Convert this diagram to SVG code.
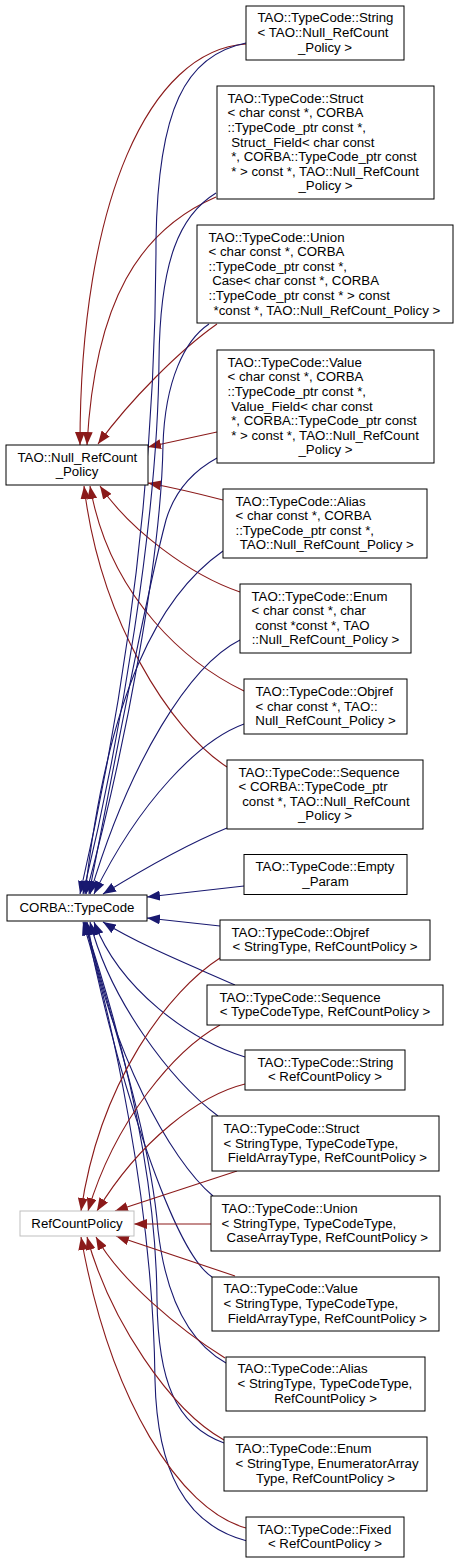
<svg xmlns="http://www.w3.org/2000/svg" width="459" height="1563" viewBox="0 0 459 1563">
<style>
  .box { fill: #ffffff; stroke: #000000; stroke-width: 1; }
  .gray { fill: #ffffff; stroke: #bfbfbf; stroke-width: 1; }
  text { font-family: "Liberation Sans", Arial, sans-serif; font-size: 13.25px; fill: #000000; white-space: pre; }
  .c { text-anchor: middle; }
  .b { fill: none; stroke: #191970; stroke-width: 1.1; marker-end: url(#ab); }
  .r { fill: none; stroke: #8b1a1a; stroke-width: 1.1; marker-end: url(#ar); }
</style>
<defs>
  <marker id="ab" viewBox="0 0 13 10" refX="13" refY="5" markerWidth="13" markerHeight="10" markerUnits="userSpaceOnUse" orient="auto">
    <path d="M0,0 L13,5 L0,10 z" fill="#191970"/>
  </marker>
  <marker id="ar" viewBox="0 0 13 10" refX="13" refY="5" markerWidth="13" markerHeight="10" markerUnits="userSpaceOnUse" orient="auto">
    <path d="M0,0 L13,5 L0,10 z" fill="#8b1a1a"/>
  </marker>
</defs>
<rect x="0" y="0" width="459" height="1563" fill="#ffffff"/>
<g id="connectors">
  <path class="r" d="M246,44 C150,50 80,200 80,445"/>
  <path class="r" d="M216,197 C140,230 95,300 87,445"/>
  <path class="r" d="M217,324 C180,350 130,400 98,444"/>
  <path class="r" d="M217,432 C195,437 170,442 148,447"/>
  <path class="r" d="M223,500 C200,494 175,488 148,483"/>
  <path class="r" d="M240,592 C190,575 130,530 100,486"/>
  <path class="r" d="M244,691 C190,665 110,600 90,486"/>
  <path class="r" d="M227,767 C170,730 100,620 84,486"/>
  <path class="b" d="M246,43 C185,55 158,110 156,240 C156,500 120,720 80,894"/>
  <path class="b" d="M216,193 C180,215 160,260 159,360 C158,520 120,740 83,894"/>
  <path class="b" d="M209,324 C185,340 165,380 163,445 C161,560 125,750 86,894"/>
  <path class="b" d="M217,458 C195,470 175,490 166,520 C145,600 115,760 89,894"/>
  <path class="b" d="M223,551 C160,595 108,690 85,894"/>
  <path class="b" d="M240,640 C190,665 130,760 90,894"/>
  <path class="b" d="M244,724 C200,740 140,800 94,894"/>
  <path class="b" d="M227,828 C190,843 150,865 103,894"/>
  <path class="b" d="M244,886 L147,897"/>
  <path class="b" d="M220,926 L147,918"/>
  <path class="b" d="M235,985 C190,965 140,945 103,922"/>
  <path class="b" d="M245,1057 C190,1040 120,990 94,922"/>
  <path class="b" d="M218,1116 C170,1080 110,1000 90,922"/>
  <path class="b" d="M213,1196 C170,1160 110,1050 87,922"/>
  <path class="b" d="M212,1277 C170,1250 110,1050 86,922"/>
  <path class="b" d="M226,1363 C185,1340 165,1290 158,1230 C150,1130 105,1000 85,922"/>
  <path class="b" d="M224,1443 C175,1425 158,1380 157,1300 C156,1150 110,1000 84,922"/>
  <path class="b" d="M247,1541 C185,1525 157,1470 155,1380 C153,1200 110,1010 83,922"/>
  <path class="r" d="M220,958 C170,990 100,1080 81,1211"/>
  <path class="r" d="M220,1025 C175,1050 115,1120 88,1211"/>
  <path class="r" d="M245,1084 C200,1095 140,1140 97,1211"/>
  <path class="r" d="M237,1171 L115,1211"/>
  <path class="r" d="M211,1224 L134,1224"/>
  <path class="r" d="M235,1276 L116,1236"/>
  <path class="r" d="M225,1358 C180,1330 120,1280 96,1237"/>
  <path class="r" d="M224,1440 C170,1410 110,1320 87,1237"/>
  <path class="r" d="M246,1528 C180,1510 110,1400 81,1237"/>
</g>
<g id="node_string_null">
  <rect class="box" x="246" y="6" width="158" height="54"/>
  <text x="257.5" y="22.4">TAO::TypeCode::String</text>
  <text x="257.5" y="37">&lt; TAO::Null_RefCount</text>
  <text class="c" x="325" y="51.6">_Policy &gt;</text>
</g>
<g id="node_struct_null">
  <rect class="box" x="217" y="86" width="217" height="113"/>
  <text x="227.5" y="102.7">TAO::TypeCode::Struct</text>
  <text x="227.5" y="117.3">&lt; char const *, CORBA</text>
  <text x="227.5" y="131.9">::TypeCode_ptr const *,</text>
  <text x="227.5" y="146.5"> Struct_Field&lt; char const</text>
  <text x="227.5" y="161.1"> *, CORBA::TypeCode_ptr const</text>
  <text x="227.5" y="175.7"> * &gt; const *, TAO::Null_RefCount</text>
  <text class="c" x="325.5" y="190.3">_Policy &gt;</text>
</g>
<g id="node_union_null">
  <rect class="box" x="197" y="225" width="256" height="98"/>
  <text x="208.5" y="241.5">TAO::TypeCode::Union</text>
  <text x="208.5" y="256.1">&lt; char const *, CORBA</text>
  <text x="208.5" y="270.7">::TypeCode_ptr const *,</text>
  <text x="208.5" y="285.3"> Case&lt; char const *, CORBA</text>
  <text x="208.5" y="299.9">::TypeCode_ptr const * &gt; const</text>
  <text class="c" x="325" y="314.5"> *const *, TAO::Null_RefCount_Policy &gt;</text>
</g>
<g id="node_value_null">
  <rect class="box" x="217" y="350" width="217" height="113"/>
  <text x="227.5" y="366.7">TAO::TypeCode::Value</text>
  <text x="227.5" y="381.3">&lt; char const *, CORBA</text>
  <text x="227.5" y="395.9">::TypeCode_ptr const *,</text>
  <text x="227.5" y="410.5"> Value_Field&lt; char const</text>
  <text x="227.5" y="425.1"> *, CORBA::TypeCode_ptr const</text>
  <text x="227.5" y="439.7"> * &gt; const *, TAO::Null_RefCount</text>
  <text class="c" x="325.5" y="454.3">_Policy &gt;</text>
</g>
<g id="node_null_refcount_policy">
  <rect class="box" x="6" y="445" width="142" height="40"/>
  <text x="17.5" y="461.7">TAO::Null_RefCount</text>
  <text class="c" x="77" y="476.3">_Policy</text>
</g>
<g id="node_alias_null">
  <rect class="box" x="223" y="489" width="204" height="69"/>
  <text x="235.5" y="505.6">TAO::TypeCode::Alias</text>
  <text x="235.5" y="520.2">&lt; char const *, CORBA</text>
  <text x="235.5" y="534.8">::TypeCode_ptr const *,</text>
  <text class="c" x="325" y="549.4"> TAO::Null_RefCount_Policy &gt;</text>
</g>
<g id="node_enum_null">
  <rect class="box" x="240" y="584" width="171" height="69"/>
  <text x="251.5" y="600.6">TAO::TypeCode::Enum</text>
  <text x="251.5" y="615.2">&lt; char const *, char</text>
  <text x="251.5" y="629.8"> const *const *, TAO</text>
  <text class="c" x="325.5" y="644.4">::Null_RefCount_Policy &gt;</text>
</g>
<g id="node_objref_null">
  <rect class="box" x="244" y="679" width="163" height="55"/>
  <text x="255.5" y="695.9">TAO::TypeCode::Objref</text>
  <text x="255.5" y="710.5">&lt; char const *, TAO::</text>
  <text class="c" x="325.5" y="725.1">Null_RefCount_Policy &gt;</text>
</g>
<g id="node_sequence_null">
  <rect class="box" x="227" y="760" width="196" height="69"/>
  <text x="238.5" y="776.6">TAO::TypeCode::Sequence</text>
  <text x="238.5" y="791.2">&lt; CORBA::TypeCode_ptr</text>
  <text x="238.5" y="805.8"> const *, TAO::Null_RefCount</text>
  <text class="c" x="325" y="820.4">_Policy &gt;</text>
</g>
<g id="node_empty_param">
  <rect class="box" x="244" y="854.5" width="163" height="40"/>
  <text x="255.5" y="871.2">TAO::TypeCode::Empty</text>
  <text class="c" x="325.5" y="885.8">_Param</text>
</g>
<g id="node_corba_typecode">
  <rect class="box" x="7" y="895" width="140" height="26"/>
  <text class="c" x="77" y="911.5">CORBA::TypeCode</text>
</g>
<g id="node_objref_t">
  <rect class="box" x="220" y="920" width="210" height="40"/>
  <text x="231.5" y="936.7">TAO::TypeCode::Objref</text>
  <text class="c" x="325" y="951.3">&lt; StringType, RefCountPolicy &gt;</text>
</g>
<g id="node_sequence_t">
  <rect class="box" x="207" y="985" width="236" height="40"/>
  <text x="219.5" y="1001.7">TAO::TypeCode::Sequence</text>
  <text class="c" x="325" y="1016.3">&lt; TypeCodeType, RefCountPolicy &gt;</text>
</g>
<g id="node_string_t">
  <rect class="box" x="245" y="1050" width="160" height="40"/>
  <text x="257.5" y="1066.7">TAO::TypeCode::String</text>
  <text class="c" x="325" y="1081.3">&lt; RefCountPolicy &gt;</text>
</g>
<g id="node_struct_t">
  <rect class="box" x="212" y="1116" width="227" height="55"/>
  <text x="223.5" y="1132.9">TAO::TypeCode::Struct</text>
  <text x="223.5" y="1147.5">&lt; StringType, TypeCodeType,</text>
  <text class="c" x="325.5" y="1162.1"> FieldArrayType, RefCountPolicy &gt;</text>
</g>
<g id="node_refcountpolicy">
  <rect class="gray" x="20" y="1211" width="114" height="25"/>
  <text class="c" x="77" y="1227.5">RefCountPolicy</text>
</g>
<g id="node_union_t">
  <rect class="box" x="211" y="1196" width="229" height="55"/>
  <text x="221.5" y="1212.9">TAO::TypeCode::Union</text>
  <text x="221.5" y="1227.5">&lt; StringType, TypeCodeType,</text>
  <text class="c" x="325.5" y="1242.1"> CaseArrayType, RefCountPolicy &gt;</text>
</g>
<g id="node_value_t">
  <rect class="box" x="212" y="1277" width="227" height="54"/>
  <text x="223.5" y="1293.4">TAO::TypeCode::Value</text>
  <text x="223.5" y="1308">&lt; StringType, TypeCodeType,</text>
  <text class="c" x="325.5" y="1322.6"> FieldArrayType, RefCountPolicy &gt;</text>
</g>
<g id="node_alias_t">
  <rect class="box" x="226" y="1357" width="199" height="54"/>
  <text x="237.5" y="1373.4">TAO::TypeCode::Alias</text>
  <text x="237.5" y="1388">&lt; StringType, TypeCodeType,</text>
  <text class="c" x="325.5" y="1402.6">RefCountPolicy &gt;</text>
</g>
<g id="node_enum_t">
  <rect class="box" x="224" y="1437" width="203" height="54"/>
  <text x="235.5" y="1453.4">TAO::TypeCode::Enum</text>
  <text x="235.5" y="1468">&lt; StringType, EnumeratorArray</text>
  <text class="c" x="325.5" y="1482.6">Type, RefCountPolicy &gt;</text>
</g>
<g id="node_fixed_t">
  <rect class="box" x="246" y="1517" width="158" height="40"/>
  <text x="257.5" y="1533.7">TAO::TypeCode::Fixed</text>
  <text class="c" x="325" y="1548.3">&lt; RefCountPolicy &gt;</text>
</g>
</svg>
